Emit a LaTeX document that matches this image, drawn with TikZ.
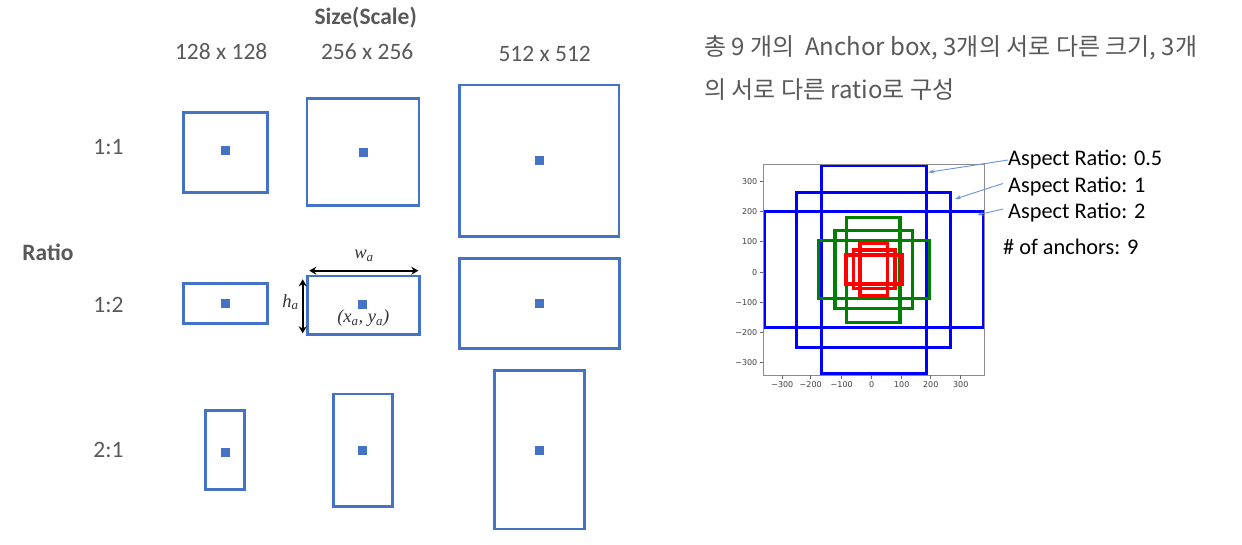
\documentclass[tikz,border=0pt]{standalone}
\usepackage{fontspec}
\setmainfont{Carlito}
\newfontfamily\krfont{Noto Sans CJK KR}
\newfontfamily\tickfont{DejaVu Sans}
\newfontfamily\serfont{Liberation Serif}
\usetikzlibrary{arrows.meta}
\definecolor{boxblue}{HTML}{4472C4}
\definecolor{txtgray}{HTML}{595959}
\definecolor{pblue}{HTML}{0000FF}
\definecolor{pgreen}{HTML}{008000}
\definecolor{pred}{HTML}{FF0000}
\definecolor{arrblue}{HTML}{6A93D8}
\tikzset{
  anchorbox/.style={draw=boxblue, line width=2.6pt, inner sep=0pt, outer sep=0pt},
  cdot/.style={fill=boxblue, minimum size=9pt, inner sep=0pt, outer sep=0pt},
  lbl/.style={text=txtgray, inner sep=0pt, font=\fontsize{23.5}{28}\selectfont},
  lblb/.style={text=txtgray, inner sep=0pt, font=\fontsize{23.5}{28}\selectfont\bfseries},
  mlbl/.style={text=black!80, inner sep=0pt, font=\serfont\itshape\fontsize{18.5}{22}\selectfont},
  dimarrow/.style={black, line width=1.6pt, {Stealth[length=7pt,width=8pt]}-{Stealth[length=7pt,width=8pt]}},
  plotline/.style={line width=3.2pt},
  ticklbl/.style={text=black!75, inner sep=0pt, font=\tickfont\fontsize{8}{9}\selectfont},
  asplbl/.style={text=black, inner sep=0pt, anchor=west, font=\fontsize{22.3}{26}\selectfont},
  thinarrow/.style={draw=arrblue, line width=0.9pt, -{Stealth[length=6pt,width=4pt]}},
  krtext/.style={text=txtgray, inner sep=0pt, anchor=west, font=\krfont\fontsize{24}{28}\selectfont}
}
\begin{document}
\begin{tikzpicture}[x=1pt,y=-1pt]
\useasboundingbox (0,0) rectangle (1242,544);
\fill[white] (0,0) rectangle (1242,544);

% ---------- left: headers ----------
\node[lblb] (size) at (365.7,18) {Size(Scale)};
\node[lbl] (s128) at (221.2,52) {128 x 128};
\node[lbl] (s256) at (367.2,52) {256 x 256};
\node[lbl] (s512) at (544.7,54) {512 x 512};
\node[lblb] (ratio) at (48,252.5) {Ratio};
\node[lbl] (r11) at (108.5,147.5) {1:1};
\node[lbl] (r12) at (108.5,305) {1:2};
\node[lbl] (r21) at (108.5,449.5) {2:1};

% ---------- left: anchor boxes ----------
\node[anchorbox, minimum width=83.6pt, minimum height=80pt] (b11) at (225.5,152.3) {};
\node[anchorbox, minimum width=112.3pt, minimum height=107.4pt] (b12) at (363,152) {};
\node[anchorbox, minimum width=159.2pt, minimum height=151.7pt] (b13) at (539.2,160.8) {};
\node[anchorbox, minimum width=84pt, minimum height=40pt] (b21) at (225.3,303.3) {};
\node[anchorbox, minimum width=112pt, minimum height=58.3pt] (b22) at (363.3,305.2) {};
\node[anchorbox, minimum width=160pt, minimum height=90pt] (b23) at (539.3,303.3) {};
\node[anchorbox, minimum width=38.6pt, minimum height=78.6pt] (b31) at (225,450) {};
\node[anchorbox, minimum width=59.4pt, minimum height=112.7pt] (b32) at (363,450.3) {};
\node[anchorbox, minimum width=90pt, minimum height=158.3pt] (b33) at (539.3,449.8) {};

\node[cdot] (d11) at (225,150) {};
\node[cdot] (d12) at (363,152.3) {};
\node[cdot] (d13) at (539.2,160.7) {};
\node[cdot] (d21) at (225,303.3) {};
\node[cdot] (d22) at (362.7,304.3) {};
\node[cdot] (d23) at (539,303.3) {};
\node[cdot] (d31) at (225,452) {};
\node[cdot] (d32) at (362.7,450) {};
\node[cdot] (d33) at (539,450) {};

% dimension annotation
\coordinate (wl) at (309.3,270.7);
\coordinate (wr) at (418.3,270.7);
\coordinate (ht) at (302.7,279.3);
\coordinate (hb) at (302.7,333.3);
\draw[dimarrow] (wl) -- (wr);
\draw[dimarrow] (ht) -- (hb);
\node[mlbl] (wa) at (364,256) {w\textsubscript{a}};
\node[mlbl] (ha) at (290.5,302) {h\textsubscript{a}};
\node[mlbl] (xy) at (363.3,318.5) {(x\textsubscript{a}, y\textsubscript{a})};

% ---------- right: text ----------
\node[krtext] (kr1) at (704,48) {총 9 개의\ \ Anchor box, 3개의 서로 다른 크기, 3개};
\node[krtext] (kr2) at (704,90) {의 서로 다른 ratio로 구성};

% ---------- right: plot ----------
\begin{scope}
\clip (763.3,164) rectangle (984,375.3);
% blue (512)
\draw[pblue, plotline] (821.3,165.5) rectangle (926.7,373.8);
\draw[pblue, plotline] (796.7,192.7) rectangle (950.7,347.3);
\draw[pblue, plotline] (764.3,211.7) rectangle (983.3,327.3);
% green (256)
\draw[pgreen, plotline] (846.7,217.3) rectangle (900,322.7);
\draw[pgreen, plotline] (835,230.7) rectangle (912.3,308.3);
\draw[pgreen, plotline] (818.3,240.7) rectangle (929.3,298.3);
% red (128)
\draw[pred, plotline] (860,243.3) rectangle (887.3,296);
\draw[pred, plotline] (853.3,250) rectangle (895,288.3);
\draw[pred, plotline] (845.3,255) rectangle (902,284);
\end{scope}
\draw[black!45, line width=0.8pt] (763.3,164) rectangle (984,375.3);

% y ticks
\foreach \v/\y [count=\i] in {300/181.7,200/211.7,100/241.7,0/272.3,{−100}/302.3,{−200}/332.3,{−300}/362.7}{
  \draw[black!60, line width=0.6pt] (759.5,\y) -- (763.3,\y);
  \node[ticklbl, anchor=east] (yt\i) at (757.5,\y) {\v};
}
% x ticks
\foreach \v/\x [count=\i] in {{−300}/782.3,{−200}/810.7,{−100}/841.7,0/871.7,100/901.7,200/930.7,300/960.7}{
  \draw[black!60, line width=0.6pt] (\x,375.3) -- (\x,379);
  \node[ticklbl] (xt\i) at (\x,385) {\v};
}

% aspect labels
\node[asplbl] (a05) at (1008,160) {Aspect Ratio: 0.5};
\node[asplbl] (a1) at (1008,186.5) {Aspect Ratio: 1};
\node[asplbl] (a2) at (1008,213) {Aspect Ratio: 2};
\node[asplbl] (anc) at (1003,246.5) {\# of anchors: 9};

\coordinate (p05) at (928.3,172.3);
\coordinate (p1) at (955,199);
\coordinate (p2) at (977.3,215);
\draw[thinarrow] (a05.west) -- (p05);
\draw[thinarrow] ([xshift=-5pt,yshift=3pt]a1.west) -- (p1);
\draw[thinarrow] ([xshift=-5pt,yshift=4pt]a2.west) -- (p2);
\end{tikzpicture}
\end{document}
